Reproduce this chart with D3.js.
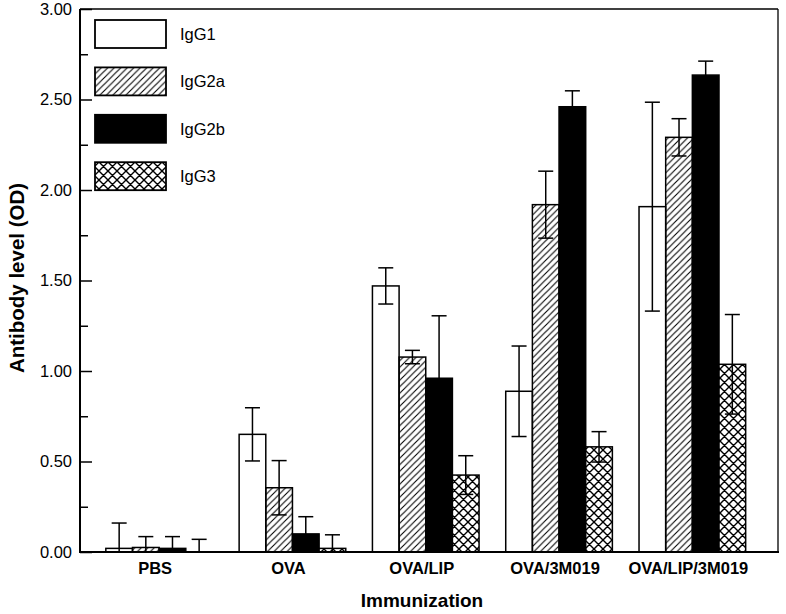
<!DOCTYPE html>
<html>
<head>
<meta charset="utf-8">
<script src="https://cdn.jsdelivr.net/npm/d3@7"></script>
<style>
  html, body { margin: 0; padding: 0; background: #fff; }
  svg { display: block; font-family: "Liberation Sans", Arial, Helvetica, sans-serif; }
</style>
</head>
<body>
<svg id="chart" width="786" height="614"></svg>
<script>
// ---- Data ----
const categories = ["PBS", "OVA", "OVA/LIP", "OVA/3M019", "OVA/LIP/3M019"];
const seriesNames = ["IgG1", "IgG2a", "IgG2b", "IgG3"];
const igg1Values  = [0.02, 0.65, 1.47, 0.888, 1.908];
const igg1Errors  = [0.14, 0.147, 0.10, 0.25, 0.577];
const igg2aValues = [0.025, 0.355, 1.077, 1.919, 2.291];
const igg2aErrors = [0.06, 0.15, 0.037, 0.185, 0.103];
const igg2bValues = [0.02, 0.10, 0.96, 2.46, 2.635];
const igg2bErrors = [0.065, 0.095, 0.345, 0.088, 0.077];
const igg3Values  = [0.0, 0.02, 0.425, 0.581, 1.037];
const igg3Errors  = [0.07, 0.075, 0.107, 0.084, 0.275];
const yTickValues = [0, 0.5, 1.0, 1.5, 2.0, 2.5, 3.0];
const yMinorTicks = [0.25, 0.75, 1.25, 1.75, 2.25, 2.75];

const valuesBySeries = [igg1Values, igg2aValues, igg2bValues, igg3Values];
const errorsBySeries = [igg1Errors, igg2aErrors, igg2bErrors, igg3Errors];

// ---- Layout ----
const svg = d3.select("#chart");
const L = 80, R = 778, T = 9, B = 552;

const defs = svg.append("defs");
const hatch = defs.append("pattern").attr("id", "hatch")
  .attr("patternUnits", "userSpaceOnUse").attr("width", 6.5).attr("height", 6.5);
hatch.append("path")
  .attr("d", "M-1,1 L1,-1 M0,6.5 L6.5,0 M5.5,7.5 L7.5,5.5")
  .attr("stroke", "#000").attr("stroke-width", 1.1).attr("fill", "none");
const cross = defs.append("pattern").attr("id", "cross")
  .attr("patternUnits", "userSpaceOnUse").attr("width", 9).attr("height", 9);
cross.append("rect").attr("width", 9).attr("height", 9).attr("fill", "#fff");
cross.append("path")
  .attr("d", "M0,0 L9,9 M-1,8 L1,10 M8,-1 L10,1 M0,9 L9,0 M-1,1 L1,-1 M8,10 L10,8")
  .attr("stroke", "#000").attr("stroke-width", 1.4).attr("fill", "none");

const fills = ["#fff", "url(#hatch)", "#000", "url(#cross)"];

const y = d3.scaleLinear().domain([0, 3]).range([B, T]);
const x0 = d3.scaleBand().domain(categories).range([92.5, 759])
  .paddingInner(0.2).paddingOuter(0.1);
const x1 = d3.scaleBand().domain(seriesNames).range([0, x0.bandwidth()]).padding(0);

// ---- Bars ----
const rows = [];
categories.forEach((c, ci) => {
  seriesNames.forEach((s, si) => {
    rows.push({ cat: c, ser: s, si, v: valuesBySeries[si][ci], e: errorsBySeries[si][ci] });
  });
});

const g = svg.append("g");
g.selectAll("rect.bar").data(rows).join("rect")
  .attr("class", "bar")
  .attr("x", d => x0(d.cat) + x1(d.ser))
  .attr("y", d => y(d.v))
  .attr("width", x1.bandwidth())
  .attr("height", d => y(0) - y(d.v))
  .attr("fill", d => fills[d.si])
  .attr("stroke", "#000").attr("stroke-width", 1.5);

// ---- Error bars ----
const capHalf = 7.5;
const eb = g.selectAll("g.err").data(rows).join("g").attr("class", "err")
  .attr("stroke", "#000").attr("stroke-width", 1.5);
eb.append("line")
  .attr("x1", d => x0(d.cat) + x1(d.ser) + x1.bandwidth() / 2)
  .attr("x2", d => x0(d.cat) + x1(d.ser) + x1.bandwidth() / 2)
  .attr("y1", d => y(Math.max(0, d.v - d.e)))
  .attr("y2", d => y(d.v + d.e));
eb.append("line")
  .attr("x1", d => x0(d.cat) + x1(d.ser) + x1.bandwidth() / 2 - capHalf)
  .attr("x2", d => x0(d.cat) + x1(d.ser) + x1.bandwidth() / 2 + capHalf)
  .attr("y1", d => y(d.v + d.e)).attr("y2", d => y(d.v + d.e));
eb.filter(d => d.v - d.e > 0).append("line")
  .attr("x1", d => x0(d.cat) + x1(d.ser) + x1.bandwidth() / 2 - capHalf)
  .attr("x2", d => x0(d.cat) + x1(d.ser) + x1.bandwidth() / 2 + capHalf)
  .attr("y1", d => y(d.v - d.e)).attr("y2", d => y(d.v - d.e));

// ---- Frame ----
svg.append("line").attr("x1", L).attr("x2", R).attr("y1", T).attr("y2", T)
  .attr("stroke", "#000").attr("stroke-width", 1.3);
svg.append("line").attr("x1", R).attr("x2", R).attr("y1", T).attr("y2", B)
  .attr("stroke", "#000").attr("stroke-width", 1.3);

// ---- Y axis ----
const yAxis = d3.axisRight(y).tickValues(yTickValues).tickSize(12)
  .tickFormat(d3.format(".2f"));
const ya = svg.append("g").attr("transform", `translate(${L},0)`).call(yAxis);
ya.select(".domain").remove();
ya.selectAll(".tick line").attr("stroke", "#000").attr("stroke-width", 1.5);
ya.selectAll(".tick text")
  .attr("x", -8).attr("text-anchor", "end")
  .attr("font-size", 16.5).attr("fill", "#000")
  .attr("font-family", "'Liberation Sans', Arial, sans-serif");
const yMinor = d3.axisRight(y).tickValues(yMinorTicks).tickSize(8).tickFormat("");
const ym = svg.append("g").attr("transform", `translate(${L},0)`).call(yMinor);
ym.select(".domain").remove();
ym.selectAll(".tick line").attr("stroke", "#000").attr("stroke-width", 1.5);
svg.append("line").attr("x1", L).attr("x2", L).attr("y1", T).attr("y2", B + 1)
  .attr("stroke", "#000").attr("stroke-width", 2);

// ---- X axis ----
const xAxis = d3.axisBottom(x0).tickSize(0).tickPadding(10.5);
const xa = svg.append("g").attr("transform", `translate(0,${B})`).call(xAxis);
xa.select(".domain").remove();
xa.selectAll(".tick text")
  .attr("font-size", 16.5).attr("font-weight", "bold").attr("fill", "#000")
  .attr("font-family", "'Liberation Sans', Arial, sans-serif")
  .attr("dx", -4);
svg.append("line").attr("x1", L - 1).attr("x2", R + 1).attr("y1", B).attr("y2", B)
  .attr("stroke", "#000").attr("stroke-width", 2.2);

// ---- Axis titles ----
svg.append("text").attr("x", 422).attr("y", 607)
  .attr("text-anchor", "middle").attr("font-size", 19).attr("font-weight", "bold")
  .text("Immunization");
svg.append("text").attr("transform", "translate(24,278) rotate(-90)")
  .attr("text-anchor", "middle").attr("font-size", 20.5).attr("font-weight", "bold")
  .text("Antibody level (OD)");

// ---- Legend ----
const legendY = d3.scaleBand().domain(seriesNames).range([20, 193]).paddingInner(0.35);
const lg = svg.append("g").selectAll("g").data(seriesNames).join("g");
lg.append("rect")
  .attr("x", 95).attr("y", d => legendY(d)).attr("width", 71).attr("height", 28)
  .attr("fill", (d, i) => fills[i]).attr("stroke", "#000").attr("stroke-width", 1.8);
lg.append("text")
  .attr("x", 180).attr("y", d => legendY(d) + 14).attr("dy", "0.36em")
  .attr("font-size", 16.5).text(d => d);
</script>
</body>
</html>
